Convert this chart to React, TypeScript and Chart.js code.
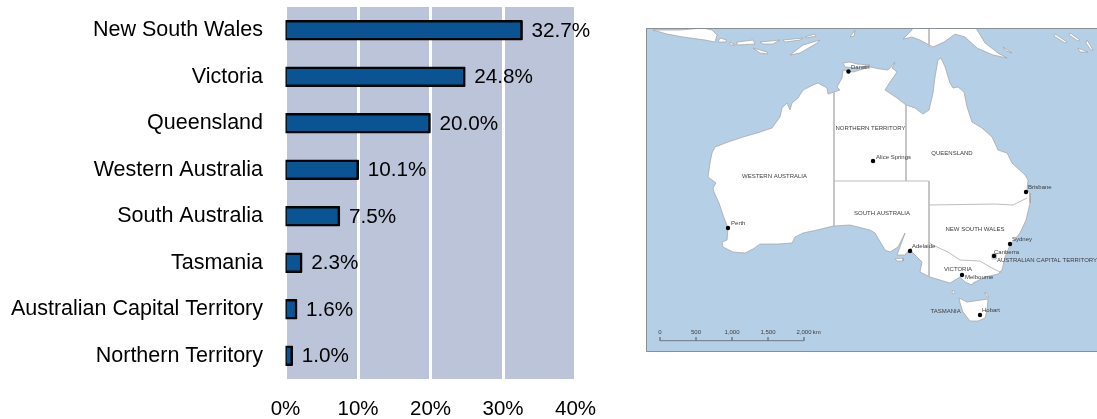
import React, { useEffect, useRef } from "react";
import { Chart, registerables } from "chart.js";

Chart.register(...registerables);

const FONT = '"Liberation Sans", Arial, sans-serif';

// ---- bar chart data
const states = [
  "New South Wales", "Victoria", "Queensland", "Western Australia",
  "South Australia", "Tasmania", "Australian Capital Territory", "Northern Territory",
];
const shares = [32.7, 24.8, 20.0, 10.1, 7.5, 2.3, 1.6, 1.0];

// ---- map data: [longitude, latitude]
type LL = [number, number];
const mainland: LL[] = [
  [128.75,-15.08],[129.5,-14.83],[129.13,-14.45],[129.75,-13.33],[129.88,-12.33],[130.5,-12.45],[131.13,-12.58],
  [133.25,-11.95],[134.5,-12.2],[135.5,-12.33],[136.38,-11.33],[136,-12.08],[136.63,-12.58],[135.75,-13.83],
  [135.13,-14.83],[136.63,-15.83],[137.75,-16.7],[138.88,-17.08],[139.88,-17.83],[140.63,-17.33],[141.13,-15.2],
  [141.38,-13.2],[141.75,-11.08],[142.13,-10.83],[142.63,-11.95],[143.25,-13.95],[143.63,-14.58],[144.25,-14.45],
  [145,-15.08],[145.38,-16.95],[146,-18.83],[147.25,-19.58],[148.5,-20.7],[149.25,-22.33],[150.38,-22.7],
  [151,-23.95],[152.63,-25.45],[153,-26.08],[152.88,-27.33],[153.25,-27.7],[153.25,-28.95],[152.75,-31.08],
  [152,-32.7],[150.75,-34.2],[150.13,-35.7],[149.75,-37.33],[149.25,-37.83],[147.63,-38.2],[146.13,-38.95],
  [146,-39.2],[145.13,-38.83],[144.5,-38.2],[143.25,-38.95],[140.75,-38.2],[139.5,-37.58],[139.75,-36.33],
  [138.88,-35.45],[138.5,-35.08],[138.38,-34.58],[137.63,-35.45],[136.63,-35.45],[137.63,-32.7],[136.75,-34.45],
  [135.75,-35.08],[135.13,-34.83],[133.88,-32.7],[133.25,-32.33],[131.75,-31.95],[130.75,-31.7],[128.63,-31.83],
  [126.63,-32.33],[124.88,-32.7],[123.88,-33.2],[123.5,-33.95],[121.75,-34.08],[119.5,-34.08],[118.63,-34.7],
  [117.63,-35.2],[116.13,-35.08],[114.88,-34.45],[114.75,-33.83],[115.38,-33.58],[115.5,-32.08],[114.88,-30.45],
  [114.38,-28.95],[113.75,-27.58],[113.63,-27.08],[114,-26.45],[113,-25.7],[113.25,-23.95],[113.5,-22.7],
  [113.88,-21.95],[115.5,-21.33],[117.38,-20.7],[119.13,-20.2],[121,-19.58],[122,-18.2],[122.25,-17.08],
  [122.88,-16.45],[123.25,-17.33],[123.5,-16.45],[124.25,-15.83],[124.88,-14.83],[126.13,-14.2],[126.75,-13.95],
  [127.88,-14.58],[128,-15.33],
];
const tasmania: LL[] = [[144.38,-40.83],[145.38,-41.33],[148,-40.95],[147.88,-42.33],[147.63,-43.33],[146.75,-43.7],[145.75,-43.7],[144.88,-42.58],[144.5,-41.45]];
const kangarooIsland: LL[] = [[136.38,-35.95],[137.38,-35.83],[137.38,-36.2],[136.63,-36.2]];
const kingIsland: LL[] = [[143.63,-39.83],[143.88,-40.2],[143.63,-40.33],[143.5,-40.08]];
const flindersIsland: LL[] = [[147.63,-40.08],[148.13,-40.7],[147.88,-40.7],[147.63,-40.33]];
const tiwiIslands: LL[] = [[129.88,-11.45],[130.75,-11.33],[131.63,-11.58],[133.25,-11.7],[131.75,-12.08],[130.13,-11.95]];
const papua: LL[] = [[137.38,-8.45],[138.5,-7.33],[138.5,-7.08],[146.5,-7.08],[147.63,-8.95],[149.25,-10.2],[150.38,-10.83],[148.63,-10.45],[146.63,-9.58],[145.13,-8.2],[143.88,-7.83],[142.5,-8.83],[141.13,-9.45],[139.5,-8.58],[138.5,-8.2]];
const java: LL[] = [[106.13,-7.33],[109.5,-7.33],[112.38,-7.08],[113.5,-7.33],[114.13,-7.95],[113.88,-8.83],[112.63,-8.58],[109.88,-8.2],[107.88,-7.83]];
const bali: LL[] = [[114.5,-8.33],[115.38,-8.58],[115.13,-8.83],[114.25,-8.83]];
const lombok: LL[] = [[115.75,-8.83],[116.38,-9.2],[115.75,-9.2]];
const sumbawa: LL[] = [[116.63,-8.83],[118.63,-8.58],[118.88,-9.08],[116.63,-9.2]];
const flores: LL[] = [[119.5,-8.83],[122,-8.58],[121.13,-9.08],[119.88,-9.08]];
const alor: LL[] = [[122.38,-8.58],[124.88,-8.33],[124.5,-8.58],[122.63,-8.83]];
const sumba: LL[] = [[118.63,-9.58],[120.38,-10.08],[120.5,-10.33],[119.5,-10.2]];
const timor: LL[] = [[127,-8.58],[124.88,-9.2],[123.25,-10.45],[124.5,-10.2],[126.63,-8.95]];
const wetar: LL[] = [[125.13,-8.2],[126.38,-7.83],[126.5,-8.08],[125.25,-8.33]];
const tanimbar: LL[] = [[130.75,-8.2],[131.38,-7.33],[131.25,-8.08]];
const solomonsA: LL[] = [[156.38,-7.83],[157.88,-8.83],[157.63,-8.95],[156.25,-8.08]];
const solomonsB: LL[] = [[158.25,-7.7],[159.5,-8.58],[159.25,-8.7],[158.13,-7.95]];
const solomonsC: LL[] = [[160.38,-8.58],[161.13,-9.83],[160.88,-9.83],[160.25,-8.95]];
const solomonsD: LL[] = [[159.25,-9.58],[160.5,-10.08],[159.5,-10.08]];
const entrecasteaux: LL[] = [[149.88,-9.45],[151,-10.2],[150.25,-9.95]];
const landMasses: LL[][] = [
  mainland, tasmania, kangarooIsland, kingIsland, flindersIsland, tiwiIslands, papua, java, bali, lombok, sumbawa,
  flores, alor, sumba, timor, wetar, tanimbar, solomonsA, solomonsB, solomonsC, solomonsD, entrecasteaux,
];

const borderWaNt: LL[] = [[128.75,-15.08],[128.75,-31.83]];
const borderNtSa: LL[] = [[128.75,-26.2],[140.63,-26.2]];
const borderNtQld: LL[] = [[137.75,-16.7],[137.75,-26.2]];
const borderSaEast: LL[] = [[140.63,-26.2],[140.63,-38.2]];
const borderQldNsw: LL[] = [[140.63,-29.2],[148.88,-29.08],[151.13,-29.2],[152.88,-28.33]];
const borderNswVic: LL[] = [[140.63,-33.95],[141.63,-34.45],[143,-35.08],[144.5,-36.08],[147,-36.2],[148.25,-36.95],[149.75,-37.7]];
const borderAct: LL[] = [[148.5,-35.33],[149,-35.33],[149,-35.95],[148.5,-35.95],[148.5,-35.33]];
const borderPapua: LL[] = [[140.63,-7.08],[140.63,-9.45]];
const borders: LL[][] = [borderWaNt, borderNtSa, borderNtQld, borderSaEast, borderQldNsw, borderNswVic, borderAct, borderPapua];

const cityNames = ["Darwin","Alice Springs","Perth","Adelaide","Brisbane","Sydney","Canberra","Melbourne","Hobart"];
const cityPoints: LL[] = [[130.56,-12.51],[133.63,-23.7],[115.5,-32.08],[138.25,-34.95],[152.75,-27.58],[150.75,-34.08],[148.75,-35.58],[144.75,-37.95],[147,-42.95]];
const cityLabelAt: LL[] = [[130.88,-11.95],[134,-23.2],[115.88,-31.45],[138.5,-34.33],[153,-26.95],[151,-33.45],[148.75,-35.08],[145.13,-38.2],[147.25,-42.33]];

const regionNames = ["NORTHERN TERRITORY","WESTERN AUSTRALIA","QUEENSLAND","SOUTH AUSTRALIA","NEW SOUTH WALES","VICTORIA","AUSTRALIAN CAPITAL TERRITORY","TASMANIA"];
const regionLabelAt: LL[] = [[133.31,-19.58],[121.31,-25.58],[143.5,-22.7],[134.75,-30.2],[146.38,-32.2],[144.25,-37.2],[155.38,-36.08],[142.69,-42.45]];

const scaleKm = [0, 500, 1000, 1500, 2000];
const scaleKmLabels = ["0", "500", "1,000", "1,500", "2,000"];
const scaleLon0 = 107;
const degPerKm = 0.009;
const scaleLat = -46.16;
const scaleTickLat = -45.7;
const scaleLabelLat = -45.08;
const scaleUnitAt: LL = [126.6, -45.08];

const pts = (a: LL[]) => a.map(([x, y]) => ({ x, y }));

const barBackground = {
  id: "barBackground",
  beforeDraw(c: any) {
    const { ctx, chartArea: a } = c;
    ctx.save();
    ctx.fillStyle = "#bcc4da";
    ctx.fillRect(a.left, a.top, a.right - a.left, a.bottom - a.top);
    ctx.restore();
  },
};
const barValues = {
  id: "barValues",
  afterDatasetsDraw(c: any) {
    const { ctx } = c;
    const meta = c.getDatasetMeta(0);
    ctx.save();
    ctx.font = `20.7px ${FONT}`;
    ctx.fillStyle = "#000";
    ctx.textBaseline = "middle";
    meta.data.forEach((el: any, i: number) => {
      ctx.fillText(`${shares[i].toFixed(1)}%`, el.x + 9, el.y + 1);
    });
    ctx.restore();
  },
};
const mapFrame = {
  id: "mapFrame",
  beforeDraw(c: any) {
    const { ctx, chartArea: a } = c;
    ctx.save();
    ctx.fillStyle = "#b5cfe7";
    ctx.fillRect(a.left, a.top, a.right - a.left, a.bottom - a.top);
    ctx.restore();
  },
  afterDraw(c: any) {
    const { ctx, chartArea: a } = c;
    ctx.save();
    ctx.strokeStyle = "#8a8f96";
    ctx.lineWidth = 1;
    ctx.beginPath();
    ctx.moveTo(a.right, a.top + 0.5);
    ctx.lineTo(a.left + 0.5, a.top + 0.5);
    ctx.lineTo(a.left + 0.5, a.bottom - 0.5);
    ctx.lineTo(a.right, a.bottom - 0.5);
    ctx.stroke();
    ctx.restore();
  },
};
const mapText = {
  id: "mapText",
  afterDatasetsDraw(c: any) {
    const { ctx, scales } = c;
    const X = (v: number) => scales.x.getPixelForValue(v);
    const Y = (v: number) => scales.y.getPixelForValue(v);
    ctx.save();
    ctx.fillStyle = "#3c3c3c";
    ctx.textBaseline = "middle";
    ctx.font = `6px ${FONT}`;
    ctx.textAlign = "center";
    regionNames.forEach((n, i) => ctx.fillText(n, X(regionLabelAt[i][0]), Y(regionLabelAt[i][1])));
    scaleKmLabels.forEach((n, i) => ctx.fillText(n, X(scaleLon0 + scaleKm[i] * degPerKm), Y(scaleLabelLat)));
    ctx.fillText("km", X(scaleUnitAt[0]), Y(scaleUnitAt[1]));
    ctx.textAlign = "left";
    cityNames.forEach((n, i) => ctx.fillText(n, X(cityLabelAt[i][0]), Y(cityLabelAt[i][1])));
    ctx.restore();
  },
};

export default function App() {
  const barRef = useRef<HTMLCanvasElement>(null);
  const mapRef = useRef<HTMLCanvasElement>(null);

  useEffect(() => {
    document.body.style.margin = "0";
    const bar = new Chart(barRef.current!, {
      type: "bar",
      data: {
        labels: states,
        datasets: [{
          data: shares,
          base: -0.14,
          backgroundColor: "#0a5494",
          borderColor: "#050505",
          borderWidth: 2.6,
          borderSkipped: false,
          borderRadius: 1,
          barThickness: 20,
        } as any],
      },
      plugins: [barBackground, barValues],
      options: {
        indexAxis: "y",
        responsive: false,
        animation: false,
        layout: { padding: { top: 7, right: 44.5, left: 0, bottom: 0 } },
        plugins: { legend: { display: false }, tooltip: { enabled: false } },
        scales: {
          x: {
            min: 0,
            max: 40,
            afterFit: (s: any) => { s.height = 40; },
            grid: { color: "#ffffff", lineWidth: 3, drawTicks: false },
            border: { display: false },
            ticks: {
              stepSize: 10,
              maxRotation: 0,
              padding: 18,
              color: "#000",
              font: { family: FONT, size: 20.5 },
              callback: (v: any) => `${v}%`,
            },
          },
          y: {
            afterFit: (s: any) => { s.width = 285.5; s.paddingTop = 0; s.paddingBottom = 0; },
            grid: { display: false, drawTicks: false },
            border: { display: false },
            ticks: { padding: 22.5, color: "#000", font: { family: FONT, size: 21.5 }, autoSkip: false },
          },
        },
      } as any,
    });

    const line = (d: LL[], extra: any) => ({
      data: pts(d), showLine: true, pointRadius: 0, tension: 0, ...extra,
    });
    const scaleBar: LL[] = [];
    scaleKm.forEach((km) => {
      const lon = scaleLon0 + km * degPerKm;
      scaleBar.push([lon, scaleLat], [lon, scaleTickLat], [lon, scaleLat]);
    });
    const map = new Chart(mapRef.current!, {
      type: "scatter",
      data: {
        datasets: [
          { data: pts(cityPoints), pointRadius: 2.2, pointBackgroundColor: "#000", pointBorderWidth: 0, showLine: false, order: 0 },
          line(scaleBar, { borderColor: "#6f7a86", borderWidth: 1, order: 1 }),
          ...borders.map((b) => line(b, { borderColor: "#bdbdbd", borderWidth: 1, order: 2 })),
          ...landMasses.map((m) => line(m.concat([m[0]]), {
            borderColor: "#a0a0a0", borderWidth: 0.7, backgroundColor: "#ffffff", fill: "shape", order: 3,
          })),
        ] as any,
      },
      plugins: [mapFrame, mapText],
      options: {
        responsive: false,
        animation: false,
        layout: { padding: 0, autoPadding: false },
        plugins: { legend: { display: false }, tooltip: { enabled: false } },
        scales: {
          x: { type: "linear", display: false, min: 105.25, max: 161.625 },
          y: { type: "linear", display: false, min: -47.575, max: -7.075 },
        },
      } as any,
    });
    return () => { bar.destroy(); map.destroy(); };
  }, []);

  return (
    <div style={{ position: "relative", width: 1097, height: 419, overflow: "hidden", background: "#fff" }}>
      <canvas ref={barRef} width={620} height={419} style={{ position: "absolute", left: 0, top: 0 }} />
      <canvas ref={mapRef} width={451} height={324} style={{ position: "absolute", left: 646, top: 28 }} />
    </div>
  );
}
